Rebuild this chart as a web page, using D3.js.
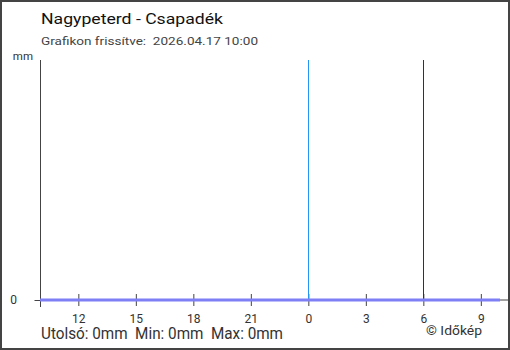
<!DOCTYPE html>
<html><head><meta charset="utf-8">
<script src="https://cdn.jsdelivr.net/npm/d3@7"></script>
<style>html,body{margin:0;padding:0;background:#fff}svg{display:block}</style>
</head><body>
<script>
const title = "Nagypeterd - Csapadék";
const subtitle = "Grafikon frissítve:  2026.04.17 10:00";
const yUnit = "mm";
const yTickLabels = ["0"];
const xTickHours = [12, 15, 18, 21, 0, 3, 6, 9];
const times = ["2026-04-16T10:00","2026-04-16T11:00","2026-04-16T12:00","2026-04-16T13:00","2026-04-16T14:00","2026-04-16T15:00","2026-04-16T16:00","2026-04-16T17:00","2026-04-16T18:00","2026-04-16T19:00","2026-04-16T20:00","2026-04-16T21:00","2026-04-16T22:00","2026-04-16T23:00","2026-04-17T00:00","2026-04-17T01:00","2026-04-17T02:00","2026-04-17T03:00","2026-04-17T04:00","2026-04-17T05:00","2026-04-17T06:00","2026-04-17T07:00","2026-04-17T08:00","2026-04-17T09:00","2026-04-17T10:00"];
const precip = [0,0,0,0,0,0,0,0,0,0,0,0,0,0,0,0,0,0,0,0,0,0,0,0,0];
const markers = [{t:"2026-04-17T00:00", kind:"day"}, {t:"2026-04-17T06:00", kind:"now"}];
const summary = "Utolsó: 0mm  Min: 0mm  Max: 0mm";
const credit = "© Időkép";

const W = 510, H = 350;
const parse = d3.timeParse("%Y-%m-%dT%H:%M");
const nb = s => s.replace(/ /g, "\u00a0");
const svg = d3.select("body").append("svg").attr("width", W).attr("height", H);
const font = "Roboto, 'Noto Sans', sans-serif";

svg.append("rect").attr("x",1).attr("y",1).attr("width",W-2).attr("height",H-2)
  .attr("fill","#fff").attr("stroke","#444").attr("stroke-width",2);

const x = d3.scaleTime().domain([parse(times[0]), parse(times[times.length-1])]).range([40, 500]);
const y = d3.scaleLinear().domain([0, 1]).range([300, 60]);

// title
svg.append("text").attr("x",41).attr("y",24).attr("font-family",font).attr("font-size",15)
  .attr("fill","#111").attr("textLength",182).attr("lengthAdjust","spacingAndGlyphs").text(nb(title));
svg.append("text").attr("x",41).attr("y",45).attr("font-family",font).attr("font-size",11.5)
  .attr("fill","#444").attr("textLength",217).attr("lengthAdjust","spacingAndGlyphs").text(nb(subtitle));

// y unit
svg.append("text").attr("x",33).attr("y",60).attr("text-anchor","end").attr("font-family",font)
  .attr("font-size",11.5).attr("fill","#333").text(yUnit);

// x axis line extending to right border
svg.append("line").attr("x1",40).attr("x2",W-1).attr("y1",y(0)).attr("y2",y(0))
  .attr("stroke","#444").attr("stroke-width",1);

// y axis
const yAxis = svg.append("g").attr("transform","translate(40.5,0)")
  .call(d3.axisLeft(y).tickValues([0]).tickSize(6).tickFormat((d,i)=>yTickLabels[i]));
yAxis.select(".domain").attr("d", `M-0,${y(1)}V${y(0)+7}`).attr("stroke","#444");
yAxis.selectAll(".tick line").attr("stroke","#444");
yAxis.selectAll(".tick text").attr("x",-27).attr("text-anchor","middle").attr("font-family",font)
  .attr("font-size",12).attr("fill","#333");

// x axis ticks
const tickDates = xTickHours.map(h => {
  const base = h >= 10 ? "2026-04-16T" : "2026-04-17T";
  return parse(base + String(h).padStart(2,"0") + ":00");
});
const xAxis = svg.append("g").attr("transform",`translate(0,${y(0)})`)
  .call(d3.axisBottom(x).tickValues(tickDates).tickSize(6).tickPadding(8)
    .tickFormat((d,i)=>String(xTickHours[i])));
xAxis.select(".domain").remove();
xAxis.selectAll(".tick line").attr("y1",-6).attr("y2",6).attr("stroke","#444");
xAxis.selectAll(".tick text").attr("font-family",font).attr("font-size",12).attr("fill","#333");

// marker lines
markers.forEach(m => {
  const xv = Math.round(x(parse(m.t))) + 0.5;
  svg.append("line").attr("x1",xv).attr("x2",xv).attr("y1",y(1)).attr("y2",y(0))
    .attr("stroke", m.kind === "day" ? "#2196F3" : "#333").attr("stroke-width",1);
});

// data line
const data = times.map((t,i)=>({t:parse(t), v:precip[i]}));
svg.append("path").datum(data).attr("fill","none").attr("stroke","#7F7FF5").attr("stroke-width",3)
  .attr("d", d3.line().x(d=>x(d.t)).y(d=>y(d.v)));

// summary
svg.append("text").attr("x",41).attr("y",339).attr("font-family",font).attr("font-size",16)
  .attr("fill","#333").attr("textLength",242).attr("lengthAdjust","spacingAndGlyphs").text(nb(summary));
svg.append("text").attr("x",426).attr("y",335).attr("font-family",font).attr("font-size",12.5)
  .attr("fill","#333").attr("textLength",56).attr("lengthAdjust","spacingAndGlyphs").text(nb(credit));
</script>
</body></html>
